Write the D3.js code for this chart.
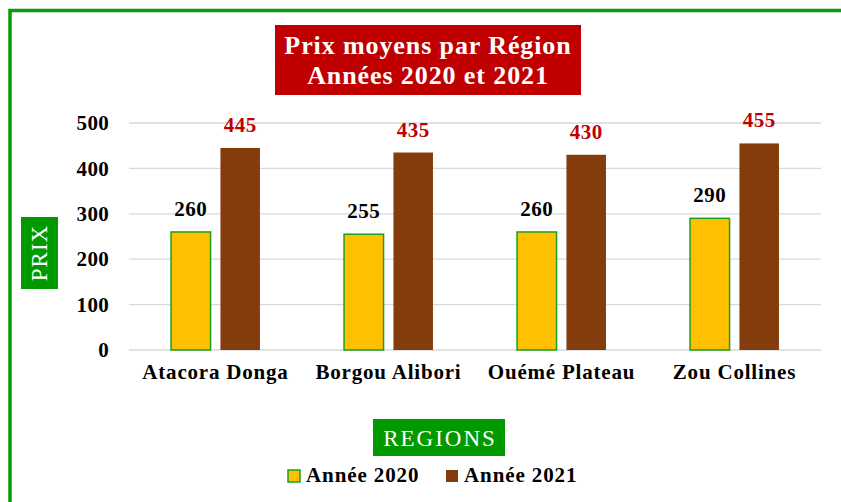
<!DOCTYPE html>
<html><head><meta charset="utf-8">
<script src="https://cdn.jsdelivr.net/npm/d3@7"></script>
<style>
html,body{margin:0;padding:0;background:#fff;}
svg{display:block;}
text{font-family:"Palatino Linotype","Book Antiqua",Palatino,"Liberation Serif",serif;}
</style></head>
<body>
<script>
const categories = ["Atacora Donga","Borgou Alibori","Ouémé Plateau","Zou Collines"];
const seriesNames = ["Année 2020","Année 2021"];
const values2020 = [260,255,260,290];
const values2021 = [445,435,430,455];
const yTicks = [0,100,200,300,400,500];
const titleLines = ["Prix moyens par Région","Années 2020 et 2021"];

const W = 841, H = 502;
const FONT = '"Palatino Linotype","Book Antiqua",Palatino,"Liberation Serif",serif';
const svg = d3.select("body").append("svg").attr("width",W).attr("height",H);

// outer border (green, extends beyond window)
svg.append("rect").attr("x",10).attr("y",10.5).attr("width",860).attr("height",520)
  .attr("fill","#fff").attr("stroke","#0A9A0A").attr("stroke-width",3.5);

const x0 = d3.scaleBand().domain(categories).range([129,821]).paddingInner(0.486).paddingOuter(0.243);
const x1 = d3.scaleBand().domain(seriesNames).range([0,x0.bandwidth()]).paddingInner(0.2);
const y = d3.scaleLinear().domain([0,500]).range([350,123]);

// gridlines
svg.append("g").selectAll("line").data(yTicks).join("line")
  .attr("x1",129).attr("x2",821)
  .attr("y1",d=>y(d)).attr("y2",d=>y(d))
  .attr("stroke","#D9D9D9").attr("stroke-width",1.3);

// y axis labels
const yAxis = d3.axisLeft(y).tickValues(yTicks).tickSize(0).tickPadding(0).tickFormat(d3.format("d"));
const ga = svg.append("g").attr("transform","translate(109,0)").call(yAxis);
ga.select(".domain").remove();
ga.selectAll("text").attr("font-size",21).attr("font-weight","bold").attr("fill","#000")
  .attr("font-family",FONT).attr("letter-spacing",0.3);

// x axis labels
const xAxis = d3.axisBottom(x0).tickSize(0).tickPadding(0);
const gx = svg.append("g").attr("transform","translate(0,364)").call(xAxis);
gx.select(".domain").remove();
gx.selectAll("text").attr("font-size",21).attr("font-weight","bold").attr("fill","#000")
  .attr("font-family",FONT).attr("letter-spacing",0.8);

const data = categories.map((c,i)=>({cat:c, vals:[
  {s:seriesNames[0], v:values2020[i]},
  {s:seriesNames[1], v:values2021[i]}]}));
const fills = {"Année 2020":"#FFC000","Année 2021":"#843C0C"};
const strokes = {"Année 2020":"#1CA01C","Année 2021":"none"};
const labelColors = {"Année 2020":"#000","Année 2021":"#C00000"};

const groups = svg.append("g").selectAll("g").data(data).join("g")
  .attr("transform",d=>`translate(${x0(d.cat)},0)`);
groups.selectAll("rect").data(d=>d.vals).join("rect")
  .attr("x",d=>x1(d.s)).attr("width",x1.bandwidth())
  .attr("y",d=>y(d.v)).attr("height",d=>y(0)-y(d.v))
  .attr("fill",d=>fills[d.s]).attr("stroke",d=>strokes[d.s]).attr("stroke-width",1.5);
groups.selectAll("text").data(d=>d.vals).join("text")
  .attr("x",d=>x1(d.s)+x1.bandwidth()/2).attr("y",d=>y(d.v)-16)
  .attr("text-anchor","middle").attr("font-size",21).attr("font-weight","bold").attr("letter-spacing",0.5)
  .attr("fill",d=>labelColors[d.s]).text(d=>d.v);

// title
svg.append("rect").attr("x",275).attr("y",25).attr("width",306).attr("height",70).attr("fill","#C00000");
svg.append("g").selectAll("text").data(titleLines).join("text")
  .attr("x",428).attr("y",(d,i)=>54+i*30).attr("text-anchor","middle")
  .attr("font-size",26).attr("font-weight","bold").attr("letter-spacing",0.9).attr("fill","#fff").text(d=>d);

// y axis title
svg.append("rect").attr("x",21).attr("y",217).attr("width",37).attr("height",72).attr("fill","#009900");
svg.append("text").attr("transform","translate(47,253) rotate(-90)").attr("text-anchor","middle")
  .attr("font-size",23).attr("letter-spacing",1).attr("fill","#fff").text("PRIX");

// x axis title
svg.append("rect").attr("x",373).attr("y",419).attr("width",132).attr("height",37).attr("fill","#009900");
svg.append("text").attr("x",440).attr("y",446).attr("text-anchor","middle")
  .attr("font-size",23).attr("letter-spacing",2).attr("fill","#fff").text("REGIONS");

// legend
const leg = svg.append("g");
const legX = [288, 446];
seriesNames.forEach((s,i)=>{
  leg.append("rect").attr("x",legX[i]).attr("y",470).attr("width",12).attr("height",12)
    .attr("fill",fills[s]).attr("stroke",strokes[s]).attr("stroke-width",1.5);
  leg.append("text").attr("x",legX[i]+18).attr("y",482).attr("font-size",21).attr("font-weight","bold")
    .attr("letter-spacing",0.9).attr("fill","#000").text(s);
});
</script>
</body></html>
